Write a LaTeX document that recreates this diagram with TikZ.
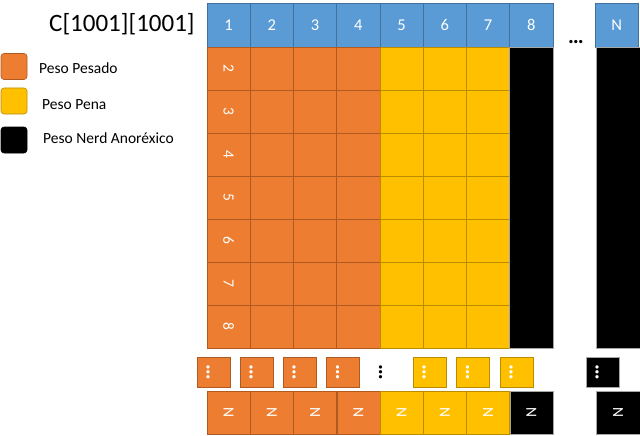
\documentclass[tikz,border=0pt]{standalone}
\usepackage{fontspec}
\setmainfont{Carlito}
\definecolor{hblue}{HTML}{5B9BD5}
\definecolor{hblueD}{HTML}{41719C}
\definecolor{orng}{HTML}{ED7D31}
\definecolor{orngD}{HTML}{AE5A21}
\definecolor{yel}{HTML}{FFC000}
\definecolor{yelD}{HTML}{BC8C00}
\tikzset{
  basecell/.style={inner sep=0pt, outer sep=0pt, line width=0.6pt, text=white, font=\fontsize{15.5}{17}\selectfont},
  headcell/.style={basecell, fill=hblue, draw=hblueD, minimum width=43.25pt, minimum height=44pt, font=\fontsize{16.5}{18}\selectfont},
  ocell/.style={basecell, fill=orng, draw=orngD, minimum width=43.25pt, minimum height=43pt},
  ycell/.style={basecell, fill=yel, draw=yelD, minimum width=43.25pt, minimum height=43pt},
  bcell/.style={basecell, fill=black, draw=gray!70, minimum width=43.25pt, minimum height=43pt},
  dotbox/.style={inner sep=0pt, outer sep=0pt, line width=0.6pt, minimum width=33pt, minimum height=30pt},
  dottext/.style={inner sep=0pt, text=white, font=\fontsize{22}{24}\selectfont\bfseries, rotate=-90},
  legbox/.style={inner sep=0pt, line width=0.6pt, rounded corners=3pt, minimum width=26pt, minimum height=26pt},
  legtext/.style={inner sep=0pt, anchor=west, font=\fontsize{15.5}{17}\selectfont},
}
\begin{document}
\begin{tikzpicture}[x=1pt,y=-1pt]
\useasboundingbox (0,0) rectangle (640,436);
% title
\node[inner sep=0pt, anchor=west, font=\fontsize{25}{27}\selectfont] (title) at (49,24) {C[1001][1001]};
% legend
\node[legbox, fill=orng, draw=orngD] (lo) at (14,66.5) {};
\node[legbox, fill=yel, draw=yelD] (ly) at (14,101) {};
\node[legbox, fill=black, draw=black] (lb) at (14,140) {};
\node[legtext] (lot) at (39,68) {Peso Pesado};
\node[legtext] (lyt) at (42,105) {Peso Pena};
\node[legtext] (lbt) at (43,138) {Peso Nerd Anoréxico};
% header
\foreach \i in {1,...,8} {
  \node[headcell] (h\i) at ({185.375+43.25*\i},25) {\i};
}
\node[headcell, minimum width=43.5pt] (hN) at (616.75,25) {N};
\node[inner sep=0pt, font=\fontsize{22}{24}\selectfont\bfseries] (hdots) at (576,42) {…};
% body rows
\foreach \r in {2,...,8} {
  \node[ocell, rotate=-90] (c\r-1) at (228.625,{43*\r-17.5}) {\r};
  \foreach \i in {2,3,4} {
    \node[ocell] (c\r-\i) at ({185.375+43.25*\i},{43*\r-17.5}) {};
  }
  \foreach \i in {5,6,7} {
    \node[ycell] (c\r-\i) at ({185.375+43.25*\i},{43*\r-17.5}) {};
  }
}
\node[bcell, minimum height=301pt] (col8) at (531.375,197.5) {};
\node[bcell, minimum width=44pt, minimum height=301pt] (colN) at (618,197.5) {};
% dots row
\foreach \x/\n in {213.5/1,256.5/2,299.5/3,343/4} {
  \node[dotbox, fill=orng, draw=orngD] (d\n) at (\x,372) {};
  \node[dottext] (dt\n) at ({\x-5.5},372) {…};
}
\foreach \x/\n in {429.5/5,473/6,516.5/7} {
  \node[dotbox, fill=yel, draw=yelD] (d\n) at (\x,372) {};
  \node[dottext] (dt\n) at ({\x-5.5},372) {…};
}
\node[dotbox, fill=black, draw=gray!70] (dN) at (602.5,372.5) {};
\node[dottext] (dtN) at (597,372.5) {…};
\node[dottext, text=black] (dmid) at (380.5,372) {…};
% bottom N row
\foreach \i in {1,2,3,4} {
  \node[ocell, rotate=-90] (n\i) at ({185.375+43.25*\i},412.5) {N};
}
\foreach \i in {5,6,7} {
  \node[ycell, rotate=-90] (n\i) at ({185.375+43.25*\i},412.5) {N};
}
\node[bcell, rotate=-90] (n8) at (531.375,412.5) {N};
\node[bcell, minimum width=43pt, minimum height=44pt, rotate=-90] (nN) at (618,412.5) {N};
\end{tikzpicture}
\end{document}
